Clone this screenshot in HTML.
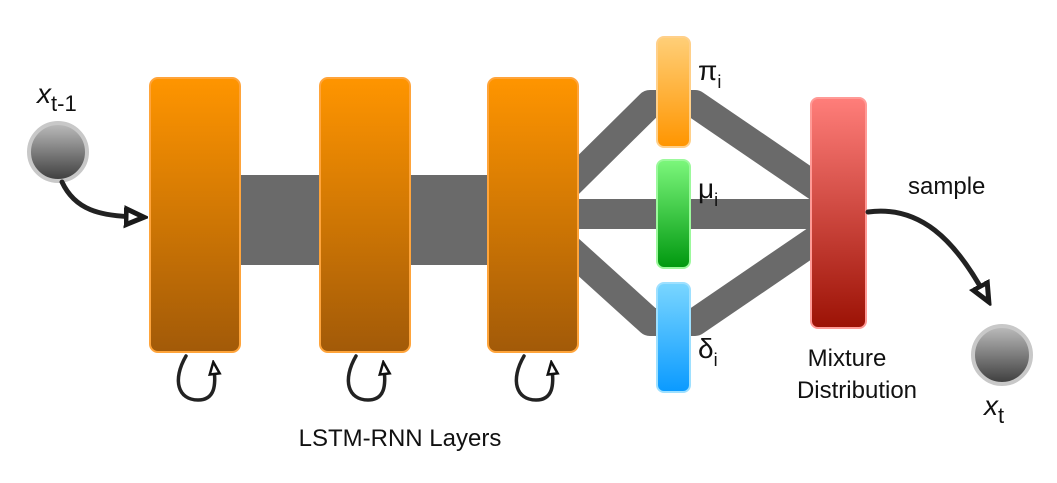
<!DOCTYPE html>
<html><head><meta charset="utf-8"><style>
body{margin:0;background:#fff}
svg{display:block;font-family:"Liberation Sans",sans-serif}
</style></head><body>
<svg width="1057" height="483" viewBox="0 0 1057 483">
<defs>
<linearGradient id="og" x1="0" y1="0" x2="0" y2="1"><stop offset="0" stop-color="#ff9500"/><stop offset="1" stop-color="#a25a08"/></linearGradient>
<linearGradient id="pg" x1="0" y1="0" x2="0" y2="1"><stop offset="0" stop-color="#ffcf78"/><stop offset="1" stop-color="#ff9500"/></linearGradient>
<linearGradient id="gg" x1="0" y1="0" x2="0" y2="1"><stop offset="0" stop-color="#7cf77c"/><stop offset="1" stop-color="#00980f"/></linearGradient>
<linearGradient id="bg" x1="0" y1="0" x2="0" y2="1"><stop offset="0" stop-color="#7ad6ff"/><stop offset="1" stop-color="#0a9aff"/></linearGradient>
<linearGradient id="rg" x1="0" y1="0" x2="0" y2="1"><stop offset="0" stop-color="#ff7e7a"/><stop offset="1" stop-color="#9c1205"/></linearGradient>
<linearGradient id="cg" x1="0" y1="0" x2="0" y2="1"><stop offset="0" stop-color="#bdbdbd"/><stop offset="1" stop-color="#3c3c3c"/></linearGradient>
<marker id="ah" markerWidth="24" markerHeight="24" refX="12" refY="12" orient="auto" markerUnits="userSpaceOnUse"><path d="M2,4 L20,12 L2,20 Z" fill="#fff" stroke="#1a1a1a" stroke-width="5" stroke-linejoin="miter"/></marker>
<marker id="ah2" markerWidth="16" markerHeight="16" refX="8" refY="8" orient="auto" markerUnits="userSpaceOnUse"><path d="M2,3 L14,8 L2,13 Z" fill="#fff" stroke="#111" stroke-width="2.5"/></marker>
</defs>
<g fill="none" stroke="#6a6a6a" stroke-width="28" stroke-linejoin="round" stroke-linecap="round">
<rect x="238" y="175" width="86" height="90" fill="#6a6a6a" stroke="none"/>
<rect x="408" y="175" width="84" height="90" fill="#6a6a6a" stroke="none"/>
<path d="M565,188 L650,104 L695,104 L818,188"/>
<path d="M570,214 L818,214" stroke-width="30" stroke-linecap="butt"/>
<path d="M565,245 L650,322 L695,322 L818,238"/>
</g>
<g stroke="#ffa43a" stroke-width="2">
<rect x="150" y="78" width="90" height="274" rx="8" fill="url(#og)"/>
<rect x="320" y="78" width="90" height="274" rx="8" fill="url(#og)"/>
<rect x="488" y="78" width="90" height="274" rx="8" fill="url(#og)"/>
</g>
<rect x="657" y="37" width="33" height="110" rx="7" fill="url(#pg)" stroke="#ffd08a" stroke-width="2"/>
<rect x="657" y="160" width="33" height="108" rx="7" fill="url(#gg)" stroke="#9cf99c" stroke-width="2"/>
<rect x="657" y="283" width="33" height="109" rx="7" fill="url(#bg)" stroke="#9ee0ff" stroke-width="2"/>
<rect x="811" y="98" width="55" height="230" rx="7" fill="url(#rg)" stroke="#ff9a96" stroke-width="2"/>
<g font-size="24" fill="#111">
<text x="698" y="80" font-size="28">π<tspan font-size="18" dy="8">i</tspan></text>
<text x="698" y="198" font-size="28">μ<tspan font-size="18" dy="8">i</tspan></text>
<text x="698" y="358" font-size="28">δ<tspan font-size="18" dy="8">i</tspan></text>
<text x="847" y="366" text-anchor="middle">Mixture</text>
<text x="857" y="398" text-anchor="middle">Distribution</text>
<text x="908" y="194">sample</text>
<text x="400" y="446" text-anchor="middle">LSTM-RNN Layers</text>
<text x="37" y="103" font-size="28" font-style="italic">x<tspan font-style="normal" font-size="22" dy="8">t-1</tspan></text>
<text x="984" y="415" font-size="28" font-style="italic">x<tspan font-style="normal" font-size="22" dy="8">t</tspan></text>
</g>
<circle cx="58" cy="152" r="29" fill="url(#cg)" stroke="#c8c8c8" stroke-width="4"/>
<circle cx="1002" cy="355" r="29" fill="url(#cg)" stroke="#c8c8c8" stroke-width="4"/>
<g fill="none" stroke="#222" stroke-width="5" stroke-linecap="round">
<path d="M62,182 C75,210 100,216 136,217" marker-end="url(#ah)"/>
<path d="M868,212 C920,205 955,240 985,295" marker-end="url(#ah)"/>
<g stroke-width="3.5">
<path d="M186,356 C172,380 178,400 198,400 C215,400 216,385 214,368" marker-end="url(#ah2)"/>
<path d="M356,356 C342,380 348,400 368,400 C385,400 386,385 384,368" marker-end="url(#ah2)"/>
<path d="M524,356 C510,380 516,400 536,400 C553,400 554,385 552,368" marker-end="url(#ah2)"/>
</g>
</g>
</svg>
</body></html>
